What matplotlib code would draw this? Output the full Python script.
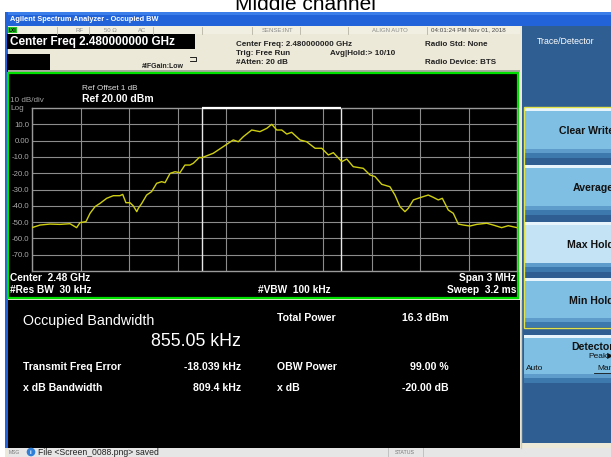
import matplotlib
matplotlib.use("Agg")
import matplotlib.pyplot as plt
from matplotlib.patches import Rectangle

plt.rcParams['font.family'] = ['Liberation Sans', 'DejaVu Sans']

# trace: offset from 2.48 GHz (kHz) and level (dBm)
freq_khz = [-1500, -1450, -1389, -1327, -1265, -1224, -1203, -1166, -1141, -1110,
            -1079, -1038, -997, -956, -939, -919, -894, -873, -852, -842,
            -821, -791, -760, -729, -698, -677, -646, -615, -585, -554,
            -523, -502, -465, -450, -379, -317, -255, -224, -193, -141,
            -90, -48, -17, 14, 45, 76, 106, 158, 199, 251,
            292, 333, 364, 416, 447, 487, 549, 591, 622, 663,
            714, 745, 776, 807, 828, 859, 900, 951, 982, 1013,
            1038, 1075, 1106, 1137, 1168, 1209, 1251, 1313, 1353, 1405,
            1446, 1500]
level_dbm = [-53.4, -51.8, -51.2, -51.4, -51.0, -53.4, -50.3, -49.7, -44.6, -40.5,
             -38.5, -35.4, -33.8, -33.8, -33.0, -38.1, -38.1, -40.1, -43.6, -41.5,
             -38.5, -33.4, -31.3, -26.2, -25.2, -25.8, -20.1, -19.1, -19.7, -15.0,
             -15.0, -13.9, -10.3, -10.5, -7.8, -3.7, 0.4, -0.7, 2.4, 6.5,
             5.5, 7.5, 10.0, 6.5, 6.5, 4.0, 5.1, 0.4, -0.7, -4.7,
             -4.7, -8.8, -7.4, -12.9, -11.3, -16.0, -17.0, -21.1, -22.1, -26.8,
             -28.3, -33.4, -40.5, -43.6, -41.5, -36.4, -35.0, -33.4, -34.8, -36.4,
             -35.4, -42.6, -44.6, -51.2, -51.8, -52.4, -51.4, -50.7, -51.8, -53.4,
             -52.2, -53.4]

ytick_vals = [10, 0, -10, -20, -30, -40, -50, -60, -70]
ytick_text = ["10.0", "0.00", "-10.0", "-20.0", "-30.0", "-40.0", "-50.0", "-60.0", "-70.0"]

obw_khz = 855.05
freq_err_khz = -18.039

W, H = 611, 457
fig = plt.figure(figsize=(W / 100, H / 100), dpi=100)

# background drawing area in pixel coordinates
bg = fig.add_axes([0, 0, 1, 1])
bg.set_xlim(0, W)
bg.set_ylim(H, 0)
bg.axis('off')


def box(x0, y0, x1, y1, fc, ec='none', lw=0, z=1):
    bg.add_patch(Rectangle((x0, y0), x1 - x0, y1 - y0, facecolor=fc, edgecolor=ec, linewidth=lw, zorder=z))


def txt(x, y, s, size, color='black', weight='normal', ha='left', va='center', **kw):
    bg.text(x, y, s, fontsize=size, color=color, fontweight=weight, ha=ha, va=va, clip_on=False, **kw)


# title above the screenshot (cropped at top)
txt(305, 10, "Middle channel", 15, ha='center', va='baseline')

# window frame
box(5, 12, W, 457, '#ECE9D8')
box(5, 12, W, 26, '#2263DA')
box(5, 12, W, 15, '#3B7EEA')
box(5, 12, 8, 448, '#2263DA')
txt(10, 19.5, "Agilent Spectrum Analyzer - Occupied BW", 5.3, 'white', 'bold')

# status row
box(8, 26, 520, 34, '#F1EFE2')
box(8, 27, 17, 33, '#22C322')
txt(9, 30, "LXI", 3.5, 'black', 'bold')
for sx in [57, 89, 153, 202, 252, 300, 348, 427]:
    bg.plot([sx, sx], [26.5, 33.5], color='#B8B4A4', lw=0.6)
for sx, s in [(79, "RF"), (110, "50 Ω"), (142, "AC"), (277, "SENSE:INT"), (390, "ALIGN AUTO")]:
    txt(sx, 30, s, 4.3, '#8A8A8A', ha='center')
txt(431, 30, "04:01:24 PM Nov 01, 2018", 4.5, '#444444')

# header area
box(7, 34, 195, 49, 'black')
txt(10, 41.5, "Center Freq 2.480000000 GHz", 8.5, 'white', 'bold')
box(7, 54, 50, 72, 'black')
txt(142, 66, "#IFGain:Low", 5.0, '#222222', 'bold')
bg.plot([190, 196, 196, 190], [57, 57, 61, 61], color='black', lw=0.6)
txt(236, 44, "Center Freq: 2.480000000 GHz", 5.8, '#222222', 'bold')
txt(236, 53.5, "Trig: Free Run", 5.8, '#222222', 'bold')
txt(236, 63, "#Atten: 20 dB", 5.8, '#222222', 'bold')
txt(330, 53.5, "Avg|Hold:> 10/10", 5.8, '#222222', 'bold')
txt(425, 44, "Radio Std: None", 5.8, '#222222', 'bold')
txt(425, 63, "Radio Device: BTS", 5.8, '#222222', 'bold')
box(8, 69.5, 520, 72, '#A8A8A0')

# plot panel
box(8, 73, 518, 298, 'black', '#00E000', 1.6)
txt(82, 88, "Ref Offset 1 dB", 5.9, '#DDDDDD')
txt(82, 99, "Ref 20.00 dBm", 7.5, 'white', 'bold')
txt(10, 101, "10 dB/div", 5.9, '#A0A0A0')
txt(10, 109, "Log", 5.9, '#A0A0A0')
txt(10, 278, "Center  2.48 GHz", 7.3, 'white', 'bold')
txt(10, 290, "#Res BW  30 kHz", 7.3, 'white', 'bold')
txt(258, 290, "#VBW  100 kHz", 7.3, 'white', 'bold')
txt(516, 278, "Span 3 MHz", 7.3, 'white', 'bold', ha='right')
txt(516, 290, "Sweep  3.2 ms", 7.3, 'white', 'bold', ha='right')

# results panel
box(8, 300, 520, 448, 'black')
bg.plot([520.5, 520.5], [300, 448], color='#CFCBB8', lw=1)
txt(23, 321, "Occupied Bandwidth", 10.3, 'white')
txt(241, 342, "855.05 kHz", 12.8, 'white', ha='right')
txt(277, 318, "Total Power", 7.6, 'white', 'bold')
txt(449, 318, "16.3 dBm", 7.6, 'white', 'bold', ha='right')
txt(23, 367, "Transmit Freq Error", 7.6, 'white', 'bold')
txt(241, 367, "-18.039 kHz", 7.6, 'white', 'bold', ha='right')
txt(277, 367, "OBW Power", 7.6, 'white', 'bold')
txt(449, 367, "99.00 %", 7.6, 'white', 'bold', ha='right')
txt(23, 388, "x dB Bandwidth", 7.6, 'white', 'bold')
txt(241, 388, "809.4 kHz", 7.6, 'white', 'bold', ha='right')
txt(277, 388, "x dB", 7.6, 'white', 'bold')
txt(449, 388, "-20.00 dB", 7.6, 'white', 'bold', ha='right')

# message bar
box(8, 448, W, 457, '#E6E6E6')
txt(9, 452.5, "MSG", 3.6, '#777777')
bg.add_patch(plt.Circle((31, 452), 3.6, color='#2F7FD8', zorder=3))
txt(31, 452, "i", 4.5, 'white', 'bold', ha='center')
txt(38, 452.5, "File <Screen_0088.png> saved", 6.2, '#222222')
bg.plot([388, 388], [448, 457], color='#BBBBBB', lw=0.6)
bg.plot([423, 423], [448, 457], color='#BBBBBB', lw=0.6)
txt(405, 452.5, "STATUS", 3.8, '#777777', ha='center')

# right softkey panel
box(522, 26, W, 443, '#2F5E92')
txt(537, 42, "Trace/Detector", 6.3, 'white')
keys = [(108, 158, "Clear Write", '#7EBFE3'),
        (165, 215, "Average", '#7EBFE3'),
        (222, 272, "Max Hold", '#C4E3F4'),
        (278, 327, "Min Hold", '#7EBFE3')]
for y0, y1, label, col in keys:
    box(524, y0, W, y1, col, z=2)
    box(524, y0, W, y0 + 3, '#E8F4FB', z=2)
    box(524, y1 - 9, W, y1 - 5, '#5E9DCB', z=2)
    box(524, y1 - 5, W, y1, '#3E79AE', z=2)
    txt(614, (y0 + y1) / 2 - 2, label, 7.6, '#111111', 'bold', ha='right', zorder=4)
bg.add_patch(Rectangle((523.5, 107), W - 523, 221, fill=False, edgecolor='#E4E44A', lw=1, zorder=5))
box(524, 335, W, 383, '#7EBFE3', z=2)
box(524, 335, W, 338, '#E8F4FB', z=2)
box(524, 374, W, 378, '#5E9DCB', z=2)
box(524, 378, W, 383, '#3E79AE', z=2)
txt(614, 347, "Detector", 7.6, '#111111', 'bold', ha='right', zorder=4)
txt(614, 357, "Peak▶", 6.0, '#111111', ha='right', zorder=4)
txt(526, 369, "Auto", 6.0, '#111111', zorder=4)
txt(614, 369, "Man", 6.0, '#111111', ha='right', zorder=4)
bg.plot([594, 611], [373, 373], color='#111111', lw=0.6, zorder=4)

# spectrum graticule
ax = fig.add_axes([32 / W, 1 - 271 / H, (517 - 32) / W, (271 - 108) / H])
ax.set_facecolor('black')
ax.plot(freq_khz, level_dbm, color='#CFCF10', lw=1.0, zorder=3)
ax.set_xlim(-1500, 1500)
ax.set_ylim(-80, 20)
ax.set_xticks(range(-1500, 1501, 300))
ax.set_xticklabels([])
ax.set_yticks(ytick_vals)
ax.set_yticklabels(ytick_text)
ax.tick_params(length=0, pad=2, labelsize=5.6, labelcolor='#A8A8A8')
ax.grid(True, color='#8C8C8C', lw=0.8)
for sp in ax.spines.values():
    sp.set_color('#9A9A9A')
    sp.set_linewidth(1.0)

# OBW markers
f_lo = freq_err_khz - obw_khz / 2
f_hi = freq_err_khz + obw_khz / 2
ax.axvline(f_lo, color='#E8E8E8', lw=1.0, zorder=2)
ax.axvline(f_hi, color='#E8E8E8', lw=1.0, zorder=2)
ax.hlines(20, f_lo, f_hi, color='white', lw=1.6, clip_on=False, zorder=4)

fig.savefig("out.png", dpi=100)
